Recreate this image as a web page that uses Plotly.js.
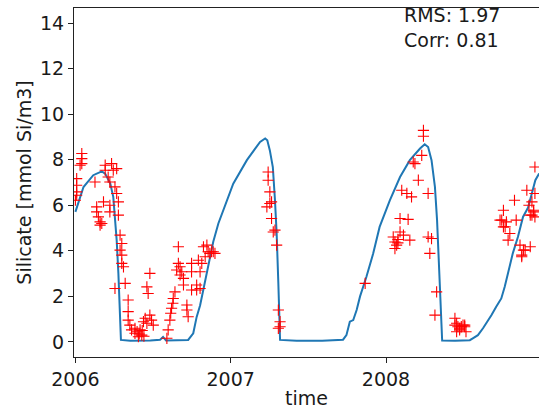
<!DOCTYPE html>
<html>
<head>
<meta charset="utf-8">
<script src="https://cdn.plot.ly/plotly-3.0.1.min.js"></script>
<style>html,body{margin:0;padding:0;background:#fff;}#chart{width:539px;height:412px;}</style>
</head>
<body>
<div id="chart"></div>
<script>
// Day offsets are days since 2006-01-01
const modelDays = [0,19,42,62,70,82,89,93,97,101,104,107,129,176,199,206,213,246,265,277,285,293,309,324,336,348,371,403,434,446,451,457,464,469,473,477,481,520,580,629,637,645,653,661,669,684,700,715,739,763,786,810,821,829,837,845,850,855,859,862,892,927,934,946,958,966,978,989,1001,1009,1017,1028,1040,1052,1064,1073,1081,1090];
const modelVals = [5.71,6.8,7.32,7.49,7.39,6.95,6.37,5.49,4.47,3.02,1.55,0.09,0.05,0.06,0.1,0.22,0.06,0.07,0.09,0.38,1.1,1.6,3.0,4.4,5.2,5.78,6.95,7.98,8.78,8.93,8.85,8.41,7.68,6.24,4.76,2.57,0.09,0.05,0.05,0.1,0.3,0.89,0.96,1.4,2.0,2.86,3.89,5.05,6.22,7.24,7.98,8.49,8.68,8.56,7.98,6.81,5.35,3.16,0.96,0.06,0.05,0.08,0.16,0.3,0.6,0.82,1.18,1.55,1.91,2.42,3.01,3.89,4.61,5.49,5.9,6.6,7.1,7.4];

const obsDays = [15,15,15,11,3,3,3,3,0,46,50,50,54,58,58,62,66,70,70,77,85,89,97,81,81,81,93,97,101,101,105,105,109,109,109,113,117,93,124,124,124,128,132,140,140,148,152,156,160,164,168,168,171,175,175,179,183,145,150,157,161,
215,218,222,224,226,229,230,234,238,242,242,246,246,250,254,254,262,262,265,273,273,273,285,285,289,293,293,297,301,305,309,312,316,320,324,328,
450,453,453,457,457,461,461,465,469,473,477,477,481,481,
681,747,751,751,755,758,758,763,763,767,771,779,782,786,790,794,798,806,814,818,818,829,829,833,837,849,845,892,892,896,896,899,903,903,907,911,915,915,918,
998,1002,1006,1006,1010,1013,1017,1021,1032,1036,1045,1049,1049,1053,1057,1061,1066,1069,1069,1073,1073,1077,1077,1080,1080,1080];
const obsVals = [8.27,8.05,7.83,7.76,7.17,6.88,6.59,6.44,6.22,7.02,5.93,5.71,5.49,5.27,5.13,5.2,6.15,7.76,7.54,7.24,7.83,7.54,7.61,7.02,6.0,5.71,6.81,6.52,6.15,5.57,4.69,4.03,4.32,3.81,3.45,3.3,2.57,2.35,1.84,1.33,0.96,0.74,0.53,0.38,0.6,0.23,0.53,0.3,0.89,1.04,0.82,2.42,2.13,3.01,1.18,0.96,0.74,0.45,0.35,0.5,0.25,
0.16,0.53,0.96,1.26,1.48,1.7,1.91,2.2,3.16,4.18,3.45,3.3,2.94,3.08,2.79,2.5,1.62,1.4,1.11,3.45,3.08,2.28,2.5,2.28,3.59,2.35,3.08,3.45,4.18,3.74,4.25,3.96,3.89,3.96,3.96,3.89,
5.93,7.46,7.1,6.59,6.08,6.15,5.42,4.83,4.91,4.25,1.4,0.6,0.89,0.67,
2.57,4.61,4.39,4.1,4.25,4.35,4.5,5.42,4.83,6.66,4.69,6.52,5.38,4.47,6.37,7.9,7.83,7.1,8.19,9.29,9.03,6.52,4.61,3.89,4.54,2.2,1.18,1.04,0.74,0.82,0.45,0.67,0.53,0.6,0.67,0.74,0.67,0.74,0.45,
5.35,5.35,5.78,5.05,5.05,5.27,4.47,4.76,6.22,5.35,4.25,3.81,3.74,4.03,4.03,6.66,6.0,4.18,5.57,6.15,5.57,5.78,5.71,7.68,6.52,5.49];

const tickVals = ['2006-01-01','2007-01-01','2008-01-01','2009-01-01'];
const tickText = ['2006','2007','2008','2009'];
const statLines = ['RMS: 1.97','Corr: 0.81'];

function toDate(d){
  return new Date(Date.UTC(2006,0,1) + Math.round(d*86400000)).toISOString().slice(0,19).replace('T',' ');
}

const font = {family:'DejaVu Sans, sans-serif', size:19, color:'#1a1a1a'};

const traces = [
  {x: modelDays.map(toDate), y: modelVals, type:'scatter', mode:'lines',
   line:{color:'#1f77b4', width:2}, hoverinfo:'skip', showlegend:false},
  {x: obsDays.map(toDate), y: obsVals, type:'scatter', mode:'markers',
   marker:{symbol:'cross-thin', size:8, color:'red', line:{color:'red', width:1.1}}, showlegend:false}
];

const layout = {
  width:539, height:412,
  margin:{l:74, r:0, t:8, b:55},
  paper_bgcolor:'#fff', plot_bgcolor:'#fff',
  font: font,
  xaxis:{type:'date', range:[toDate(-3.3), toDate(1089.6)],
    tickvals:tickVals, ticktext:tickText, ticks:'outside', ticklen:5, tickcolor:'#222',
    showline:true, linecolor:'#222', linewidth:1, mirror:true, showgrid:false, zeroline:false,
    tickfont:font, title:{text:'time', font:font, standoff:2}},
  yaxis:{range:[-0.66,14.66], tickvals:[0,2,4,6,8,10,12,14], ticks:'outside', ticklen:5, tickcolor:'#222',
    showline:true, linecolor:'#222', linewidth:1, showgrid:false, zeroline:false,
    tickfont:font, title:{text:'Silicate [mmol Si/m3]', font:font, standoff:3}},
  annotations: [{text: statLines.join('<br>'), xref:'paper', yref:'paper', x:0.7054, y:0.944,
    xanchor:'left', yanchor:'middle', align:'left', showarrow:false, font:font}]
};

Plotly.newPlot('chart', traces, layout, {staticPlot:true});
</script>
</body>
</html>
